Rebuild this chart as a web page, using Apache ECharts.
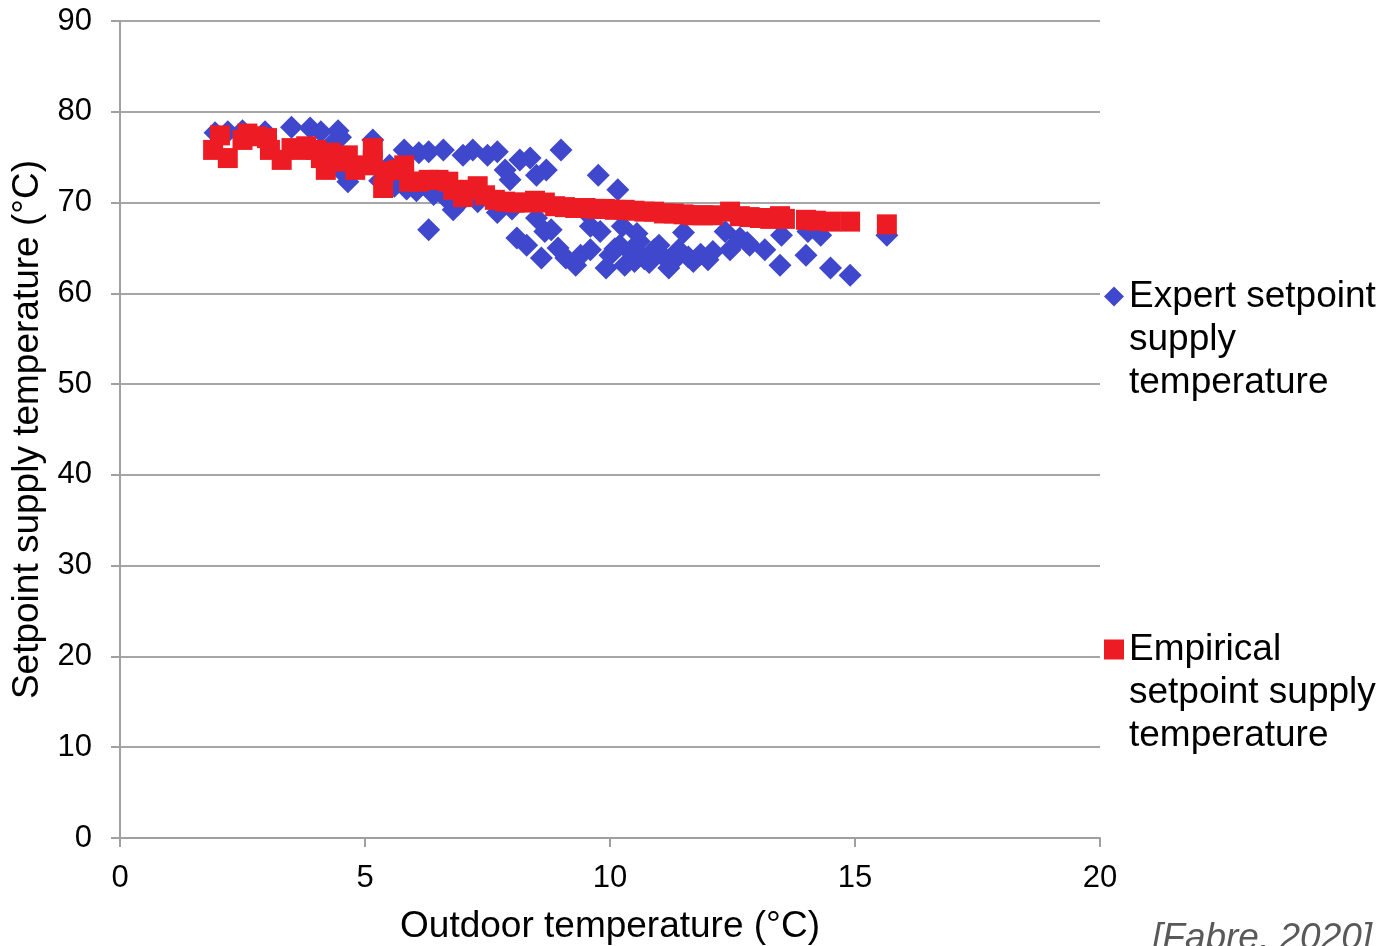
<!DOCTYPE html>
<html>
<head>
<meta charset="utf-8">
<title>Setpoint supply temperature</title>
<script src="https://cdn.jsdelivr.net/npm/echarts@6/dist/echarts.min.js"></script>
<style>
  html, body { margin: 0; padding: 0; background: #fff; }
  #chart { width: 1386px; height: 946px; }
</style>
</head>
<body>
<div id="chart"></div>
<script>
// 专家设定值 (outdoor temp, supply temp)
const expertX = [1.94, 2.2, 2.5, 2.96, 3.5, 3.88, 4.1, 4.45, 4.5, 4.3, 4.65, 4.55, 5.16, 5.5, 5.8, 6.1, 6.3, 6.6,
  6.3, 6.8, 7.0, 7.2, 7.5, 7.7, 7.86, 7.96, 8.16, 8.37, 8.5, 8.7, 9.0, 5.3, 5.6, 5.85, 6.05, 6.4, 6.65, 6.9, 7.3,
  7.7, 8.0, 8.1, 8.3, 8.6, 8.67, 8.8, 8.94, 9.1, 9.3, 9.4, 9.6, 9.76, 9.8, 9.92, 10.0, 10.16, 10.2, 10.3, 10.4,
  10.5, 10.6, 10.7, 10.8, 10.9, 11.0, 11.1, 11.2, 11.3, 11.4, 11.6, 11.7, 11.85, 12.0, 12.1, 12.35, 12.45, 12.65,
  12.8, 12.85, 13.16, 13.47, 13.5, 14.0, 14.04, 14.3, 14.5, 14.9, 15.65, 9.5, 10.25, 10.55, 11.5, 8.5, 9.6, 10.1];
const expertY = [77.7, 77.8, 77.9, 77.8, 78.3, 78.2, 77.8, 77.9, 77.2, 76.3, 72.3, 73.3, 76.9, 74.1, 75.8, 75.5, 75.6, 75.8,
  67.0, 69.2, 75.2, 75.8, 75.2, 75.6, 73.6, 72.5, 74.7, 74.9, 73.0, 73.6, 75.8, 72.4, 71.8, 71.5, 71.3, 70.9, 70.5, 69.8, 70.1,
  68.9, 69.3, 66.1, 65.3, 63.9, 66.8, 67.0, 65.0, 63.9, 63.1, 64.2, 64.8, 73.0, 66.8, 62.8, 64.2, 71.4, 65.3, 63.1, 64.6,
  63.5, 65.7, 63.8, 63.4, 64.8, 65.3, 64.0, 62.8, 63.6, 64.8, 64.0, 63.5, 64.3, 63.7, 64.6, 66.8, 64.8, 66.1,
  65.6, 65.3, 64.8, 63.1, 66.4, 64.2, 66.8, 66.4, 62.8, 62.0, 66.4, 69.0, 67.4, 66.6, 66.7, 68.3, 67.4, 64.9];

// 经验设定值
const empiricalX = [1.9, 2.04, 2.2, 2.5, 2.6, 2.8, 3.0, 3.06, 3.3, 3.5, 3.67, 3.8, 4.0, 4.1, 4.3, 4.2, 4.5, 4.65,
  4.8, 5.0, 5.16, 5.16, 5.37, 5.4, 5.67, 5.8, 5.9, 6.1, 6.3, 6.5, 6.7, 6.8, 7.0, 7.14, 7.3, 7.45, 7.65, 7.86, 8.06,
  8.27, 8.47, 8.67, 8.88, 9.08, 9.29, 9.5, 9.7, 9.9, 10.1, 10.3, 10.5, 10.7, 10.9, 11.1, 11.3, 11.5, 11.7, 11.9,
  12.1, 12.45, 12.65, 12.85, 13.06, 13.27, 13.47, 13.57, 14.0, 14.2, 14.5, 14.9, 15.65];
const empiricalY = [75.8, 77.4, 74.9, 76.9, 77.6, 77.3, 77.1, 75.8, 74.7, 76.0, 75.8, 76.2, 75.8, 74.9, 75.5, 73.6, 74.5, 75.2,
  73.6, 74.1, 76.0, 74.7, 71.6, 73.4, 73.6, 74.1, 72.3, 72.3, 72.5, 72.5, 72.3, 71.4, 70.6, 71.4, 71.8, 70.8, 70.3, 70.1, 70.0,
  70.0, 70.2, 70.0, 69.6, 69.5, 69.4, 69.4, 69.3, 69.3, 69.2, 69.2, 69.1, 69.0, 69.0, 68.8, 68.8, 68.7, 68.6, 68.6,
  68.6, 69.0, 68.5, 68.4, 68.3, 68.2, 68.5, 68.2, 68.1, 68.0, 67.9, 67.9, 67.6];

const seriesNames = ['Expert setpoint supply temperature', 'Empirical setpoint supply temperature']
// 图例换行
const legendLines = {
  'Expert setpoint supply temperature': 'Expert setpoint\nsupply\ntemperature',
  'Empirical setpoint supply temperature': 'Empirical\nsetpoint supply\ntemperature'
}

function pairs(xs, ys) {
  return xs.map((x, i) => [x, ys[i]])
}

const mycharts = echarts.init(document.querySelector('#chart'))
const fontFamily = 'Liberation Sans, Arial, sans-serif'
const legendText = {
  color: '#000',
  fontSize: 37,
  fontFamily: fontFamily,
  lineHeight: 43
}
// 空行放在前面，让图标对齐第一行
const legendFormatter = name => '\n\n' + legendLines[name]
const option = {
  animation: false,
  backgroundColor: '#fff',
  grid: { left: 120, right: 286, top: 21, bottom: 108, outerBoundsMode: 'none' },
  legend: [
    {
      data: [seriesNames[0]],
      left: 1099, top: 184,
      padding: 5,
      itemWidth: 20, itemHeight: 20, itemGap: 0,
      icon: 'diamond',
      formatter: legendFormatter,
      textStyle: legendText
    },
    {
      data: [seriesNames[1]],
      left: 1099, top: 537,
      padding: 5,
      itemWidth: 20, itemHeight: 20, itemGap: 0,
      icon: 'rect',
      formatter: legendFormatter,
      textStyle: legendText
    }
  ],
  xAxis: {
    type: 'value',
    min: 0, max: 20, interval: 5,
    name: 'Outdoor temperature (°C)',
    nameLocation: 'middle',
    nameGap: 70,
    nameTextStyle: { color: '#000', fontSize: 37, fontFamily: fontFamily },
    axisLine: { show: true, lineStyle: { color: '#a0a0a0', width: 2 } },
    axisTick: { show: true, length: 9, lineStyle: { color: '#a0a0a0', width: 2 } },
    axisLabel: { color: '#000', fontSize: 31, fontFamily: fontFamily, margin: 25 },
    splitLine: { show: false }
  },
  yAxis: {
    type: 'value',
    min: 0, max: 90, interval: 10,
    name: 'Setpoint supply temperature (°C)',
    nameLocation: 'middle',
    nameGap: 72,
    nameTextStyle: { color: '#000', fontSize: 37, fontFamily: fontFamily },
    axisLine: { show: true, lineStyle: { color: '#a0a0a0', width: 2 } },
    axisTick: { show: true, length: 9, lineStyle: { color: '#a0a0a0', width: 2 } },
    axisLabel: { color: '#000', fontSize: 31, fontFamily: fontFamily, margin: 28 },
    splitLine: { show: true, lineStyle: { color: '#a6a6a6', width: 2 } }
  },
  series: [
    {
      name: seriesNames[0],
      type: 'scatter',
      symbol: 'diamond',
      symbolSize: [23, 23],
      itemStyle: { color: '#3f48cc', opacity: 1 },
      data: pairs(expertX, expertY)
    },
    {
      name: seriesNames[1],
      type: 'scatter',
      symbol: 'rect',
      symbolSize: [20, 20],
      itemStyle: { color: '#ed1c24', opacity: 1 },
      data: pairs(empiricalX, empiricalY)
    }
  ],
  graphic: [
    {
      type: 'text',
      left: 1152, top: 920,
      style: {
        text: '[Fabre, 2020]',
        fill: '#595959',
        font: 'italic 37px Liberation Sans, Arial, sans-serif'
      }
    }
  ]
}
mycharts.setOption(option)
</script>
</body>
</html>
